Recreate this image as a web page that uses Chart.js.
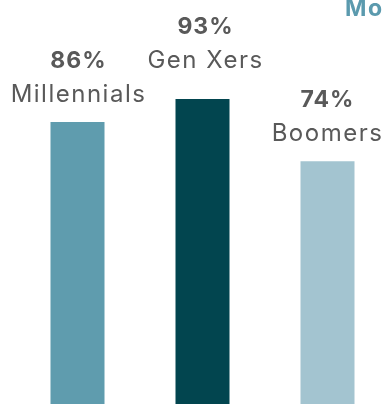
<!DOCTYPE html>
<html>
<head>
<meta charset="utf-8">
<script src="https://cdn.jsdelivr.net/npm/chart.js@4"></script>
<style>
  html, body { margin: 0; padding: 0; background: #fff; overflow: hidden; }
  #wrap { width: 390px; height: 404px; position: relative; }
</style>
</head>
<body>
<div id="wrap"><canvas id="mycanvas"></canvas></div>
<script>
var generations = ['Millennials', 'Gen Xers', 'Boomers'];
var shares = [86, 93, 74];
var barColors = ['#5f9cae', '#02454f', '#a3c4d0'];
var titleText = 'Mo';

var FONT = 'Inter, "Noto Sans", sans-serif';

// percent + generation name above each bar, plus the cut-off title
var labelPlugin = {
    id: 'labels',
    afterDatasetsDraw: function (chart, args, opts) {
        var ctx = chart.ctx;
        var meta = chart.getDatasetMeta(0);
        ctx.save();
        ctx.textAlign = 'center';
        ctx.textBaseline = 'alphabetic';
        ctx.fillStyle = '#595959';
        meta.data.forEach(function (bar, i) {
            var lift = opts.lift[i];
            var x = bar.x + opts.nudge[i];
            ctx.font = 'bold 23px ' + FONT;
            ctx.letterSpacing = '1px';
            ctx.fillText(shares[i] + '%', x + 1, bar.y - 54 - lift);
            ctx.font = '24px ' + FONT;
            ctx.letterSpacing = '1.5px';
            ctx.fillText(generations[i], x + 1, bar.y - 20 - lift);
        });
        ctx.textAlign = 'left';
        ctx.fillStyle = '#5b9aae';
        ctx.font = 'bold 23px ' + FONT;
        ctx.letterSpacing = '1.5px';
        ctx.fillText(titleText, 345, 16);
        ctx.restore();
    }
};

var ctx = document.getElementById('mycanvas');
var barGraph = new Chart(ctx, {
    type: 'bar',
    data: {
        labels: generations,
        datasets: [{
            data: shares,
            backgroundColor: barColors,
            borderWidth: 0,
            categoryPercentage: 1,
            barPercentage: 0.432
        }]
    },
    options: {
        responsive: true,
        maintainAspectRatio: false,
        animation: false,
        layout: { padding: { top: 76, left: 15, right: 0, bottom: 0 } },
        plugins: {
            legend: { display: false },
            tooltip: { enabled: false },
            labels: { lift: [0, 11, 0], nudge: [0, 2, -1] }
        },
        scales: {
            x: { display: false },
            y: { display: false, min: 0, max: 100 }
        }
    },
    plugins: [labelPlugin]
});
</script>
</body>
</html>
